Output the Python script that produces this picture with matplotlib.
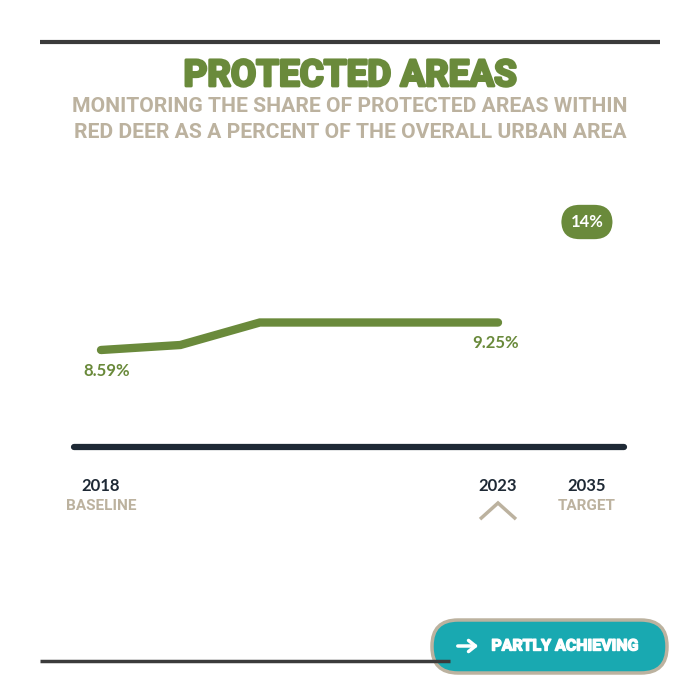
import numpy as np
import matplotlib.pyplot as plt
from matplotlib import transforms
from matplotlib import patheffects as pe
from matplotlib.patches import FancyBboxPatch

years = [2018, 2019, 2020, 2021, 2022, 2023]
share = [8.59, 8.71, 9.25, 9.25, 9.25, 9.25]
target_year = 2035
target_value = 14
axis_labels = ['2018', '2023', '2035']
axis_sublabels = ['BASELINE', '', 'TARGET']

GREEN = '#6a8a3b'
NAVY = '#1e2935'
BEIGE = '#bcb29f'
TEAL = '#19a9b1'
GREY = '#3b3b3b'

fig = plt.figure(figsize=(7, 7), dpi=100)

# overlay in pixel coords for the decorations
ov = fig.add_axes([0, 0, 1, 1])
ov.set_xlim(0, 700)
ov.set_ylim(700, 0)
ov.axis('off')

# data axes
ax = fig.add_axes([0, 0, 1, 1])
ax.patch.set_alpha(0)
ax.axis('off')
ax.set_xlim(-1.272, 7.544)
ax.set_ylim(0.19, 16.99)

xpos = np.arange(len(years))
target_pos = 6.12
tick_pos = [0, 5, target_pos]

# rules top and bottom
ov.plot([40, 660], [42, 42], color=GREY, lw=3, solid_capstyle='butt')
ov.plot([40, 450], [661, 661], color=GREY, lw=2.5, solid_capstyle='butt')

# heavy titles: bold font plus a thin stroke of the same colour
ov.text(350, 76, 'PROTECTED AREAS', ha='center', va='center', color=GREEN,
        fontsize=26.5, fontweight='bold', family='Roboto',
        path_effects=[pe.withStroke(linewidth=2, foreground=GREEN)])
ov.text(350, 107, 'MONITORING THE SHARE OF PROTECTED AREAS WITHIN', ha='center',
        va='center', color=BEIGE, fontsize=15.2, fontweight='bold', family='Roboto')
ov.text(350, 132, 'RED DEER AS A PERCENT OF THE OVERALL URBAN AREA', ha='center',
        va='center', color=BEIGE, fontsize=15.2, fontweight='bold', family='Roboto')

# baseline axis
ov.plot([74, 624], [447, 447], color=NAVY, lw=4.5, solid_capstyle='round')

# the series
ax.plot(xpos, share, color=GREEN, lw=6, solid_capstyle='round', solid_joinstyle='miter')
ax.annotate(f'{share[0]:.2f}%', (xpos[0], share[0]), xytext=(4, -15), textcoords='offset points',
            ha='center', va='center', color=GREEN, fontsize=12, fontweight='bold', family='Lato')
ax.annotate(f'{share[-1]:.2f}%', (xpos[-1], share[-1]), xytext=(-2, -15), textcoords='offset points',
            ha='center', va='center', color=GREEN, fontsize=12, fontweight='bold', family='Lato')

# target pill
tr = transforms.blended_transform_factory(ax.transData, ov.transData)
ax.text(target_pos, 222, f'{target_value}%', transform=tr, ha='center', va='center',
        color='white', fontsize=12, fontweight='bold', family='Lato',
        bbox=dict(boxstyle='round,pad=0.55,rounding_size=1.1', fc=GREEN, ec='none'))

# year labels
for p, lab, sub in zip(tick_pos, axis_labels, axis_sublabels):
    ax.text(p, 486, lab, transform=tr, ha='center', va='center', color=NAVY,
            fontsize=12, fontweight='bold', family='Lato')
    if sub:
        ax.text(p, 506, sub, transform=tr, ha='center', va='center', color=BEIGE,
                fontsize=11, fontweight='bold', family='Roboto')

# caret under current year
ax.plot([tick_pos[1] - 0.21, tick_pos[1], tick_pos[1] + 0.21], [518, 503, 518],
        transform=tr, color=BEIGE, lw=2.5, solid_joinstyle='miter')

# status button
btn = FancyBboxPatch((432, 620), 235, 53, boxstyle='round,pad=0,rounding_size=26',
                     fc=TEAL, ec=BEIGE, lw=2.5)
ov.add_patch(btn)
ov.annotate('', xy=(481, 646), xytext=(455, 646),
            arrowprops=dict(arrowstyle='->,head_length=0.5,head_width=0.4', color='white', lw=2.5))
ov.text(565, 646, 'PARTLY ACHIEVING', ha='center', va='center', color='white',
        fontsize=11.5, fontweight='bold', family='Roboto',
        path_effects=[pe.withStroke(linewidth=1, foreground='white')])

fig.savefig('out.png', dpi=100)
